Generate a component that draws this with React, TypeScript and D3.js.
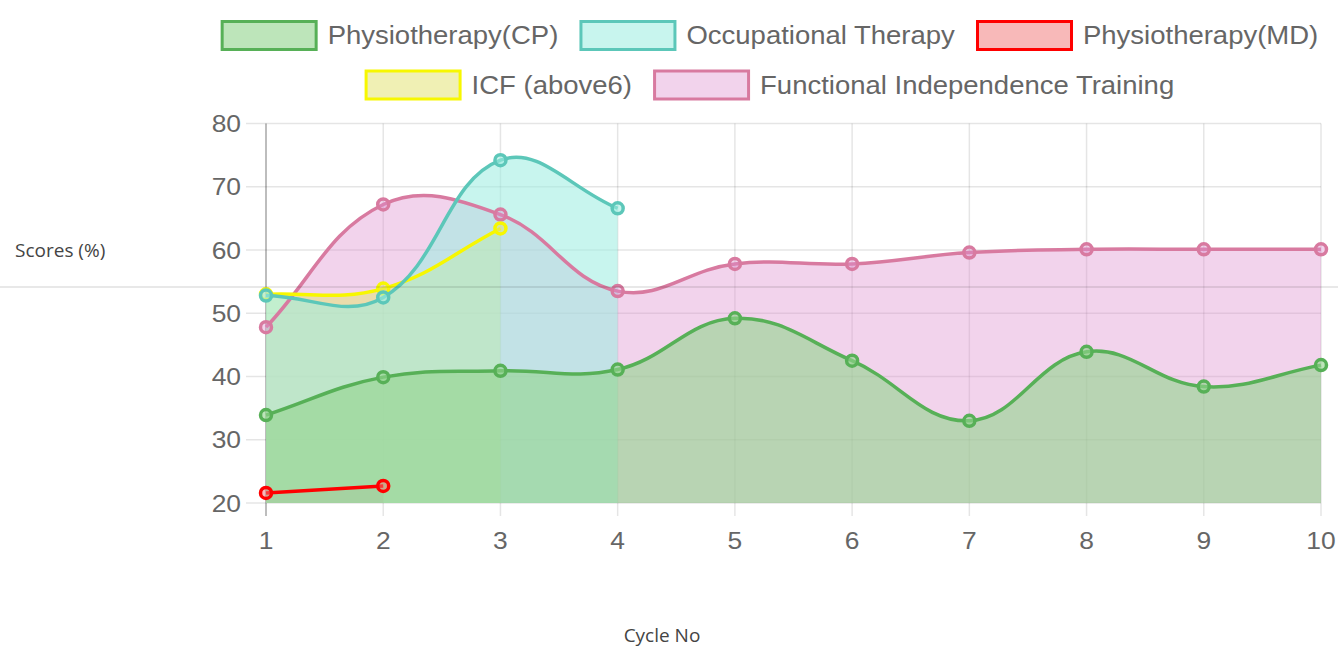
import React, { useRef, useEffect } from "react"
import * as d3 from "d3"

// values
const cycles = [1, 2, 3, 4, 5, 6, 7, 8, 9, 10]
const yTicks = [20, 30, 40, 50, 60, 70, 80]
const physioCP = [33.9, 39.9, 40.9, 41.1, 49.2, 42.5, 33.0, 43.9, 38.4, 41.8]
const occupational = [52.8, 52.5, 74.2, 66.6]
const physioMD = [21.6, 22.7]
const icf = [53.0, 53.9, 63.4]
const fit = [47.8, 67.2, 65.6, 53.5, 57.8, 57.8, 59.6, 60.1, 60.1, 60.1]

const seriesNames = ["Physiotherapy(CP)", "Occupational Therapy", "Physiotherapy(MD)", "ICF (above6)", "Functional Independence Training"]
const seriesValues = [physioCP, occupational, physioMD, icf, fit]
const lineColors = ["#57b057", "#5cc7b9", "#ff0000", "#f7f700", "#d87aa0"]
const fillColors = [
    "rgba(147,212,143,0.61)",
    "rgba(158,237,225,0.57)",
    "rgba(241,115,115,0.5)",
    "rgba(228,228,119,0.55)",
    "rgba(222,145,207,0.4)"
]

// chart.js style bezier (tension 0.4, control points capped to the area)
const splinePath = (pts, t, area, closeTo?) => {
    const cps = pts.map((p, i) => {
        const prev = pts[i - 1] || p
        const next = pts[i + 1] || p
        const d01 = Math.hypot(p[0] - prev[0], p[1] - prev[1])
        const d12 = Math.hypot(next[0] - p[0], next[1] - p[1])
        let s01 = d01 / (d01 + d12)
        let s12 = d12 / (d01 + d12)
        if (isNaN(s01)) s01 = 0
        if (isNaN(s12)) s12 = 0
        const fa = t * s01, fb = t * s12
        const cap = (x, y) => [Math.max(area.x0, Math.min(area.x1, x)), Math.max(area.y0, Math.min(area.y1, y))]
        return {
            prev: cap(p[0] - fa * (next[0] - prev[0]), p[1] - fa * (next[1] - prev[1])),
            next: cap(p[0] + fb * (next[0] - prev[0]), p[1] + fb * (next[1] - prev[1]))
        }
    })
    const path = d3.path()
    path.moveTo(pts[0][0], pts[0][1])
    for (let i = 1; i < pts.length; i++) {
        path.bezierCurveTo(cps[i - 1].next[0], cps[i - 1].next[1], cps[i].prev[0], cps[i].prev[1], pts[i][0], pts[i][1])
    }
    if (closeTo !== undefined) {
        path.lineTo(pts[pts.length - 1][0], closeTo)
        path.lineTo(pts[0][0], closeTo)
        path.closePath()
    }
    return path.toString()
}

const App = () => {
    const ref = useRef()
    const width = 1338
    const height = 647

    useEffect(() => {
        const svg = d3.select(ref.current)
        svg.selectAll("*").remove()

        const x = d3.scaleLinear().domain([1, 10]).range([266, 1321])
        const y = d3.scaleLinear().domain([20, 80]).range([503, 123.5])
        const area = { x0: x(1), x1: x(10), y0: y(80), y1: y(20) }
        const stretch = "scale(1.1,1)"
        const font = "'Liberation Sans', Arial, sans-serif"

        // grid
        const grid = svg.append("g")
        grid.selectAll(".hg").data(yTicks).enter().append("line")
            .attr("x1", 246).attr("x2", x(10))
            .attr("y1", d => y(d)).attr("y2", d => y(d))
            .attr("stroke", "rgba(0,0,0,0.1)").attr("stroke-width", 1.5)
        grid.selectAll(".vg").data(cycles).enter().append("line")
            .attr("x1", d => x(d)).attr("x2", d => x(d))
            .attr("y1", y(80)).attr("y2", 516)
            .attr("stroke", (d, i) => i === 0 ? "rgba(0,0,0,0.35)" : "rgba(0,0,0,0.1)")
            .attr("stroke-width", 1.5)

        // tick labels
        grid.selectAll(".yl").data(yTicks).enter().append("g")
            .attr("transform", d => `translate(241,${y(d)}) ${stretch}`)
            .append("text")
                .attr("text-anchor", "end").attr("dominant-baseline", "central")
                .attr("font-family", font).attr("font-size", 24)
                .attr("fill", "#666").text(d => d)
        grid.selectAll(".xl").data(cycles).enter().append("g")
            .attr("transform", d => `translate(${x(d)},540) ${stretch}`)
            .append("text")
                .attr("text-anchor", "middle").attr("dominant-baseline", "central")
                .attr("font-family", font).attr("font-size", 24)
                .attr("fill", "#666").text(d => d)

        const pointsOf = vals => vals.map((v, i) => [x(cycles[i]), y(v)])
        const order = d3.range(seriesValues.length).reverse()

        // fills first, last dataset at the bottom
        const fills = svg.append("g")
        order.forEach(i => {
            fills.append("path")
                .attr("d", splinePath(pointsOf(seriesValues[i]), 0.4, area, y(20)))
                .attr("fill", fillColors[i])
        })

        // lines and points
        const lines = svg.append("g")
        order.forEach(i => {
            const pts = pointsOf(seriesValues[i])
            lines.append("path")
                .attr("d", splinePath(pts, 0.4, area))
                .attr("fill", "none").attr("stroke", lineColors[i]).attr("stroke-width", 3.5)
            lines.selectAll(".pt" + i).data(pts).enter().append("circle")
                .attr("cx", d => d[0]).attr("cy", d => d[1]).attr("r", 5.5)
                .attr("fill", fillColors[i]).attr("stroke", lineColors[i]).attr("stroke-width", 3.5)
        })

        // legend
        const rows = [[0, 1, 2], [3, 4]]
        const rowY = [35.5, 85]
        const boxW = 94, boxH = 28, gapText = 13, gapItem = 21, legendCenter = 769.5
        const legend = svg.append("g")
        rows.forEach((row, r) => {
            const widths = row.map(i => {
                const t = legend.append("text").attr("font-family", font)
                    .attr("font-size", 25).text(seriesNames[i])
                const w = t.node().getComputedTextLength() * 1.1
                t.remove()
                return w
            })
            const total = d3.sum(widths) + row.length * (boxW + gapText) + (row.length - 1) * gapItem
            let cx = legendCenter - total / 2
            row.forEach((i, k) => {
                legend.append("rect")
                    .attr("x", cx + 1.5).attr("y", rowY[r] - boxH / 2)
                    .attr("width", boxW).attr("height", boxH)
                    .attr("fill", fillColors[i]).attr("stroke", lineColors[i]).attr("stroke-width", 3)
                legend.append("g")
                    .attr("transform", `translate(${cx + boxW + gapText},${rowY[r]}) ${stretch}`)
                    .append("text")
                        .attr("dominant-baseline", "central")
                        .attr("font-family", font).attr("font-size", 25)
                        .attr("fill", "#666").text(seriesNames[i])
                cx += boxW + gapText + widths[k] + gapItem
            })
        })

        // page separator running through the chart
        svg.append("line")
            .attr("x1", 0).attr("x2", width).attr("y1", 287).attr("y2", 287)
            .attr("stroke", "rgba(0,0,0,0.12)").attr("stroke-width", 1.5)

        // axis titles
        svg.append("text")
            .attr("x", 15).attr("y", 257)
            .attr("font-family", "'Open Sans', 'Noto Sans', sans-serif").attr("font-size", 19)
            .attr("fill", "#444").text("Scores (%)")
        svg.append("text")
            .attr("x", 662).attr("y", 642).attr("text-anchor", "middle")
            .attr("font-family", "'Open Sans', 'Noto Sans', sans-serif").attr("font-size", 19)
            .attr("fill", "#444").text("Cycle No")
    }, [])

    return (
        <svg ref={ref} width={width} height={height}
            style={{ position: "absolute", left: 0, top: 0, background: "#fff" }}>
        </svg>
    )
}

export default App
